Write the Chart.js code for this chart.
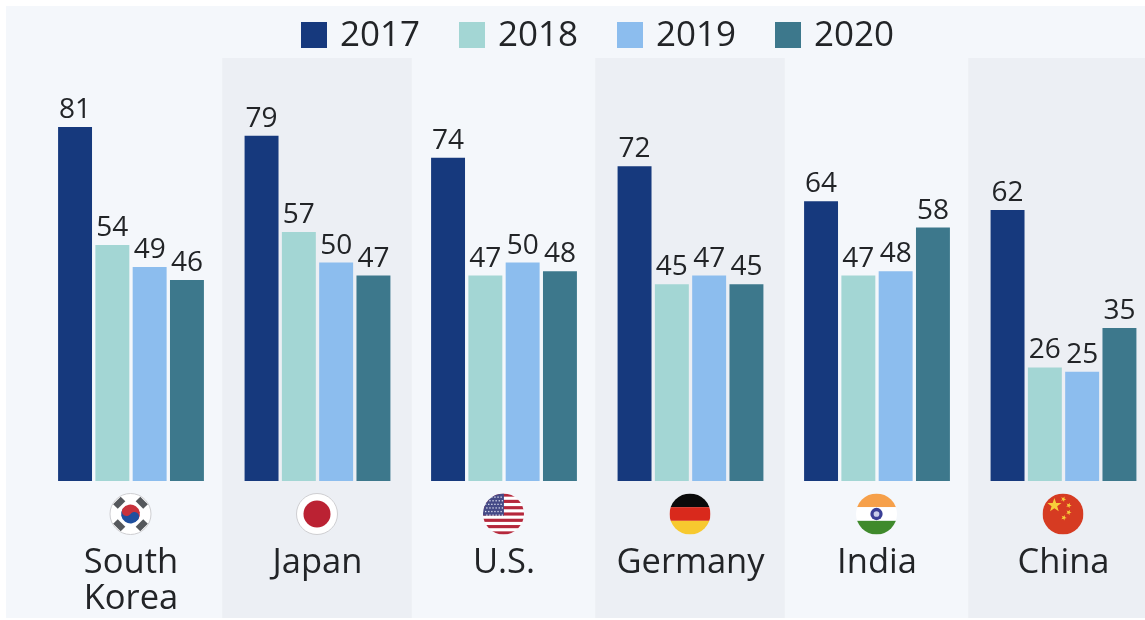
<!DOCTYPE html>
<html><head><meta charset="utf-8">
<style>html,body{margin:0;padding:0;background:#fff;overflow:hidden;width:1145px;height:620px}canvas{display:block;filter:blur(.45px)}</style>
<script src="https://cdn.jsdelivr.net/npm/chart.js@4"></script>
</head><body><canvas id="c" width="1194" height="620"></canvas>
<script>
const categories=[['South','Korea'],'Japan','U.S.','Germany','India','China'];
const flagKeys=['kr','jp','us','de','in','cn'];
const v2017=[81,79,74,72,64,62];
const v2018=[54,57,47,45,47,26];
const v2019=[49,50,50,47,48,25];
const v2020=[46,47,48,45,58,35];
const seriesNames=['2017','2018','2019','2020'];
const seriesColors=['#16397d','#a3d6d4','#8cbdee','#3d788c'];
const FONT='"Open Sans"';
const TEXT='#222427';

function star(ctx,x,y,r,rot){ctx.beginPath();for(let i=0;i<10;i++){const a=rot+i*Math.PI/5-Math.PI/2,q=i%2?r*.4:r;ctx.lineTo(x+q*Math.cos(a),y+q*Math.sin(a));}ctx.closePath();ctx.fill();}
const flags={
 kr(c,r){c.fillStyle='#fff';c.fillRect(-r,-r,2*r,2*r);
  c.save();c.rotate(.6);c.fillStyle='#c8323c';c.beginPath();c.arc(0,0,r*.46,Math.PI,0);c.fill();
  c.fillStyle='#1f4f9e';c.beginPath();c.arc(0,0,r*.46,0,Math.PI);c.fill();
  c.fillStyle='#c8323c';c.beginPath();c.arc(-r*.23,0,r*.23,0,2*Math.PI);c.fill();
  c.fillStyle='#1f4f9e';c.beginPath();c.arc(r*.23,0,r*.23,0,2*Math.PI);c.fill();c.restore();
  c.fillStyle='#55585c';[[-.55,-.55,-.785],[.55,-.55,.785],[-.55,.55,.785],[.55,.55,-.785]].forEach(([x,y,a])=>{c.save();c.translate(x*r,y*r);c.rotate(a);c.fillRect(-r*.26,-r*.16,r*.52,r*.32);c.restore();});},
 jp(c,r){c.fillStyle='#fff';c.fillRect(-r,-r,2*r,2*r);c.fillStyle='#bb2233';c.beginPath();c.arc(0,0,r*.66,0,2*Math.PI);c.fill();},
 us(c,r){c.fillStyle='#fff';c.fillRect(-r,-r,2*r,2*r);c.fillStyle='#b5283c';const h=2*r/13;for(let i=0;i<13;i+=2)c.fillRect(-r,-r+i*h,2*r,h);
  c.fillStyle='#454a86';c.fillRect(-r,-r,r*1.02,7*h);c.fillStyle='#dfe2f0';for(let y=0;y<6;y++)for(let x=0;x<6;x++)c.fillRect(-r+2+x*3.1+(y%2)*1.2,-r+3+y*3.6,1.3,1.3);},
 de(c,r){c.fillStyle='#0a0a0a';c.fillRect(-r,-r,2*r,2*r/3);c.fillStyle='#d9291c';c.fillRect(-r,-r/3,2*r,2*r/3);c.fillStyle='#f7c92f';c.fillRect(-r,r/3,2*r,2*r/3);},
 in(c,r){c.fillStyle='#f6a04a';c.fillRect(-r,-r,2*r,2*r/3);c.fillStyle='#fff';c.fillRect(-r,-r/3,2*r,2*r/3);c.fillStyle='#3f8a2c';c.fillRect(-r,r/3,2*r,2*r/3);
  c.fillStyle='#3a3f96';c.beginPath();c.arc(0,0,r*.3,0,2*Math.PI);c.fill();c.fillStyle='#c9cdea';c.beginPath();c.arc(0,0,r*.14,0,2*Math.PI);c.fill();},
 cn(c,r){c.fillStyle='#d63b22';c.fillRect(-r,-r,2*r,2*r);c.fillStyle='#f7cf3a';star(c,-r*.42,-r*.42,r*.36,0);
  [[.02,-.72],[.28,-.42],[.28,-.08],[.04,.18]].forEach(([x,y])=>star(c,x*r,y*r,r*.14,.4));}
};
const paintPlugin={
 id:'paint',
 beforeDraw(chart){const {ctx,scales:{x,y},width}=chart;
  ctx.save();ctx.fillStyle='#f4f7fb';ctx.fillRect(6,6,width-6,612);
  const top=y.getPixelForValue(y.max);
  ctx.fillStyle='#eceff4';
  [1,3,5].forEach(i=>{const c=x.getPixelForValue(i);const half=(x.getPixelForValue(1)-x.getPixelForValue(0))/2;ctx.fillRect(c-half-2,top,2*half+3,618-top);});
  ctx.restore();},
 afterDatasetsDraw(chart){const {ctx}=chart;ctx.save();ctx.font='28px '+FONT;ctx.fillStyle=TEXT;ctx.textAlign='center';ctx.textBaseline='alphabetic';
  chart.data.datasets.forEach((ds,d)=>{chart.getDatasetMeta(d).data.forEach((el,i)=>{ctx.fillText(String(ds.data[i]),el.x,el.y-9);});});
  ctx.restore();},
 afterDraw(chart){const {ctx,scales:{x}}=chart;
  ctx.save();
  ctx.font='35px '+FONT;ctx.textBaseline='middle';ctx.textAlign='left';
  chart.data.datasets.forEach((ds,i)=>{const lx=301+i*158;ctx.fillStyle=ds.backgroundColor;ctx.fillRect(lx,22,26,26);ctx.fillStyle=TEXT;ctx.fillText(ds.label,lx+39,36);});
  flagKeys.forEach((k,i)=>{const cx=x.getPixelForValue(i)-0.5,cy=514,r=20.5;ctx.save();ctx.translate(cx,cy);ctx.beginPath();ctx.arc(0,0,r,0,2*Math.PI);ctx.clip();flags[k](ctx,r);ctx.restore();
   if(k==='kr'||k==='jp'){ctx.strokeStyle='#cfcfd2';ctx.lineWidth=1;ctx.beginPath();ctx.arc(cx,cy,r,0,2*Math.PI);ctx.stroke();}});
  ctx.restore();}
};
new Chart(document.getElementById('c'),{
 type:'bar',
 data:{labels:categories,datasets:[v2017,v2018,v2019,v2020].map((d,i)=>({label:seriesNames[i],data:d,backgroundColor:seriesColors[i],borderWidth:0,barPercentage:.91,categoryPercentage:.8}))},
 options:{responsive:false,animation:false,
  layout:{padding:{left:37.75,right:37.25,top:58,bottom:0}},
  plugins:{legend:{display:false},tooltip:{enabled:false},title:{display:false}},
  scales:{
   x:{grid:{display:false},border:{display:false},
      ticks:{color:TEXT,font:{family:FONT,size:34.5,lineHeight:1.05},padding:56,autoSkip:false,maxRotation:0,minRotation:0},
      afterFit(s){s.height=139;}},
   y:{display:false,min:0,max:96.8}
  }},
 plugins:[paintPlugin]
});
</script></body></html>
